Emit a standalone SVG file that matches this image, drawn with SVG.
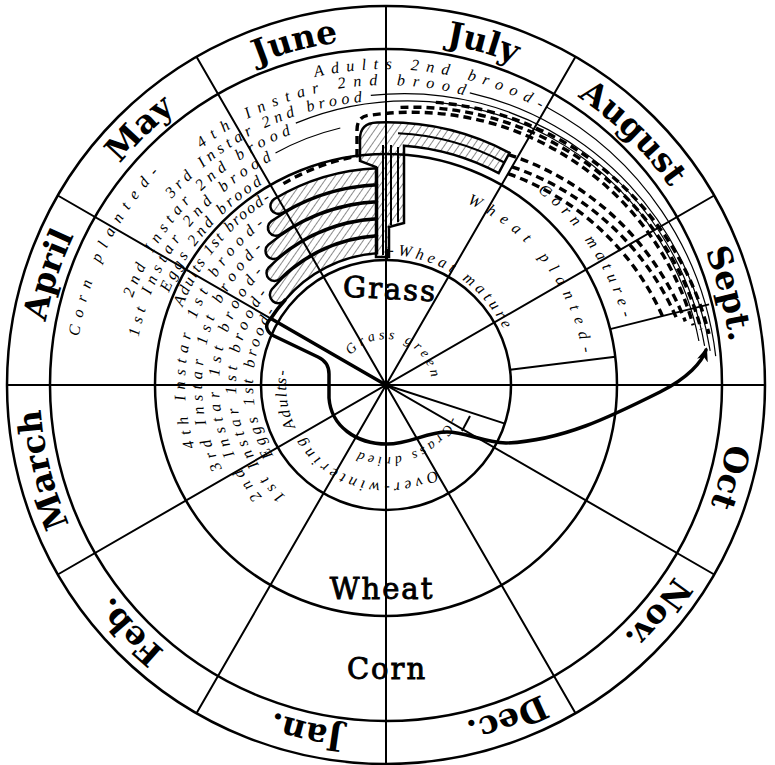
<svg xmlns="http://www.w3.org/2000/svg" width="775" height="765" viewBox="0 0 775 765">
<style>
.c{fill:none;stroke:#000;stroke-width:2.5}
.d{fill:none;stroke:#000;stroke-width:2}
.mon{font-family:"DejaVu Serif","Liberation Serif",serif;font-weight:bold;font-size:33px;fill:#000}
.big{font-family:"DejaVu Serif","Liberation Serif",serif;font-size:29px;fill:#000;stroke:#000;stroke-width:.9;letter-spacing:2px}
.lab{font-family:"Liberation Serif",serif;font-style:italic;font-size:16px;fill:#000}
.sm{font-size:14px}
.thin{fill:none;stroke:#000;stroke-width:1.2}
.dash{fill:none;stroke:#000;stroke-width:3.4;stroke-dasharray:8 5}
.band{fill:url(#hatch);stroke:#000;stroke-width:2.5}
.thick{fill:none;stroke:#000;stroke-width:3.5;stroke-linejoin:round;stroke-linecap:round}
</style>
<defs>
<pattern id="hatch" width="6" height="6" patternUnits="userSpaceOnUse" patternTransform="rotate(35)"><line x1="0" y1="0" x2="0" y2="6" stroke="#000" stroke-width="0.9"/></pattern>
<marker id="arr" viewBox="0 0 10 10" refX="8" refY="5" markerWidth="4" markerHeight="4" orient="auto"><path d="M0,1 L10,5 L0,9 L3,5 Z" fill="#000"/></marker>
<path id="mp" d="M 0,-346 A 346 346 0 1 1 0,346 A 346 346 0 1 1 0,-346"/>
<path id="t1" d="M -307.2,-48.6 A 311 311 0 0 1 -223.7,-216.0"/>
<path id="t2" d="M -71.1,-307.9 A 316 316 0 0 1 158,-273.7"/>
<path id="t3" d="M -184.7,-236.4 A 300 300 0 0 1 82.7,-288.4"/>
<path id="t4" d="M -214.3,-186.3 A 284 284 0 0 1 -19.8,-283.3"/>
<path id="t5" d="M -253.4,-87.3 A 268 268 0 0 1 -91.7,-251.8"/>
<path id="t6" d="M -247.4,-48.1 A 252 252 0 0 1 -110.5,-226.5"/>
<path id="t7" d="M -217.2,-92.2 A 236 236 0 0 1 -121.5,-202.3"/>
<path id="w1" d="M -203.5,-78.1 A 218 218 0 0 1 -112.3,-186.9"/>
<path id="w2" d="M -191.2,62.1 A 201 201 0 0 1 -118.1,-162.6"/>
<path id="w3" d="M -163.9,83.5 A 184 184 0 0 1 -120.7,-138.9"/>
<path id="w4" d="M -124.1,111.7 A 167 167 0 0 1 -120.1,-116.0"/>
<path id="w5" d="M -100.4,111.5 A 150 150 0 0 1 -116.6,-94.4"/>
<path id="w6" d="M -112.8,70.5 A 133 133 0 0 1 -109.0,-76.3"/>
<path id="g1" d="M -35.2,-29.6 A 46 46 0 0 1 45.8,-4.0"/>
<path id="g2" d="M 64.7,31.6 A 72 72 0 0 1 -30.4,65.3"/>
<path id="g3" d="M 49,84.9 A 98 98 0 0 1 -84.9,49"/>
<path id="g4" d="M -90.6,42.3 A 100 100 0 0 1 -98.5,-17.4"/>
<path id="x1" d="M 2.3,-130 A 130 130 0 0 1 118.8,-52.9"/>
<path id="x2" d="M 80.9,-181.8 A 199 199 0 0 1 197.1,-27.7"/>
<path id="x3" d="M 151.5,-193.8 A 246 246 0 0 1 237.6,-63.7"/>
</defs>
<rect width="775" height="765" fill="#fff"/>
<g transform="translate(386,385)">
<g id="rings">
<circle class="c" r="379" stroke-width="3"/>
<circle class="c" r="336"/>
<circle class="c" r="231"/>
<circle class="c" r="125"/>
</g>
<g id="dividers">
<path class="d" d="M 0,-379 L 0,379 M 189.5,-328.2 L -189.5,328.2 M 328.2,-189.5 L -328.2,189.5 M -379,0 L 379,0 M 328.2,189.5 L -328.2,-189.5 M 189.5,328.2 L -189.5,-328.2"/>
<path class="d" d="M 0,0 L 118.9,38.6 M 124.1,-15.2 L 229.3,-28.2 M 224.1,-55.9 L 323.1,-80.6"/>
<path class="d" stroke-width="1.5" d="M 84,31 L 76,46"/>
</g>
<g id="months" class="mon" text-anchor="middle">
<text><textPath href="#mp" startOffset="2083">June</textPath></text>
<text><textPath href="#mp" startOffset="96">July</textPath></text>
<text><textPath href="#mp" startOffset="268">August</textPath></text>
<text><textPath href="#mp" startOffset="453">Sept.</textPath></text>
<text><textPath href="#mp" startOffset="634">Oct</textPath></text>
<text><textPath href="#mp" startOffset="785">Nov.</textPath></text>
<text><textPath href="#mp" startOffset="966">Dec.</textPath></text>
<text><textPath href="#mp" startOffset="1165">Jan.</textPath></text>
<text><textPath href="#mp" startOffset="1365">Feb.</textPath></text>
<text><textPath href="#mp" startOffset="1546">March</textPath></text>
<text><textPath href="#mp" startOffset="1739">April</textPath></text>
<text><textPath href="#mp" startOffset="1908">May</textPath></text>
</g>
<g id="crops" class="big" text-anchor="middle">
<text x="4" y="-86" transform="rotate(3 4 -95)">Grass</text>
<text x="-4" y="214">Wheat</text>
<text x="1" y="294">Corn</text>
</g>
<g id="bands">
<path class="band" stroke-width="2" d="M -10,-128 L -10,-218 L -26,-224 L -26,-246 Q -26,-262 -9,-262.5 A 263 263 0 0 1 123.5,-232.2 L 112.7,-211.9 A 240 240 0 0 0 18,-239.3 L 18,-162 L 3,-158 L 3,-128 Z"/>
<path class="d" stroke-width="2.4" d="M 12,-251.7 A 252 252 0 0 1 118.3,-222.5"/>
<path class="d" stroke-width="1.2" d="M -3,-130 L -3,-240 M 5,-160 L 5,-240 M 12,-163 L 12,-238"/>
<path class="band" d="M -101.1,-84.8 A 8.5 8.5 0 0 1 -114.1,-95.8 A 149 149 0 0 1 -9,-148.7 L -9,-131.7 A 132 132 0 0 0 -101.1,-84.8 Z"/>
<path class="band" d="M -106.1,-106.1 A 8 8 0 0 1 -117.4,-117.4 A 166 166 0 0 1 -9,-165.8 L -9,-149.7 A 150 150 0 0 0 -106.1,-106.1 Z"/>
<path class="band" d="M -107.3,-127.9 A 8 8 0 0 1 -117.6,-140.2 A 183 183 0 0 1 -9,-182.8 L -9,-166.8 A 167 167 0 0 0 -107.3,-127.9 Z"/>
<path class="band" d="M -105.5,-150.7 A 8 8 0 0 1 -114.7,-163.8 A 200 200 0 0 1 -9,-199.8 L -9,-183.8 A 184 184 0 0 0 -105.5,-150.7 Z"/>
<path class="band" d="M -103.5,-172.3 A 8 8 0 0 1 -111.8,-186.0 A 217 217 0 0 1 -9,-216.8 L -9,-200.8 A 201 201 0 0 0 -103.5,-172.3 Z"/>
<path class="d" stroke-width="3" d="M 1,-136 L 1,-124"/>
</g>
<g id="connectors">
<path class="dash" stroke-width="3" stroke-dasharray="12 6" d="M 122,-211.3 A 265 265 0 0 1 276.5,-68.9"/>
<path class="dash" d="M 126,-218.2 A 275 275 0 0 1 290.4,-67.1"/>
<path class="dash" d="M 122.5,-230.4 A 284 284 0 0 1 299.3,-63.6"/>
<path class="dash" d="M -102.6,-201.4 A 228 228 0 0 1 -39.9,-226.5 L -29,-229 L -29,-255 Q -29,-270 -14,-270 A 292 292 0 0 1 307.2,-59.7"/>
<path class="dash" d="M 14.5,-277.6 A 299 299 0 0 1 315.1,-55.6"/>
<path class="dash" d="M 49.8,-282.6 A 307 307 0 0 1 323,-51.1"/>
<path class="thin" d="M 160.5,-278 A 326 326 0 0 1 329.7,-28.9"/>
<path class="thin" d="M 83.8,-292.2 A 315 315 0 0 1 324.2,-34.1"/>
<path class="thin" d="M -15.2,-289.6 A 305 305 0 0 1 318.6,-39.1"/>
<path class="thin" d="M -90.2,-261.9 A 296 296 0 0 1 312.9,-44.0"/>
<path class="thin" d="M -110.5,-232 A 259 259 0 0 1 -45.7,-257"/>
<path class="thick" d="M -101.1,-84.8 A 133 133 0 0 0 -115.2,-66.5 Q -124,-58 -114,-50 L -68,-28 Q -57,-23 -57,-11 L -57,13 C -55,41 -30,59 1,59 C 24,59 40,47 61,47 C 80,47 96,57 120,58 C 176,56 226,31 274,7 C 302,-7 316,-23 320,-35" marker-end="url(#arr)"/>
<path class="thick" stroke-width="3" d="M -115.2,-66.5 L 0,0"/>
</g>
<g id="labels" class="lab">
<text><textPath href="#t1" textLength="185" lengthAdjust="spacing">Corn planted-</textPath></text>
<text><textPath href="#t2" textLength="233" lengthAdjust="spacing">Adults 2nd brood-</textPath></text>
<text><textPath href="#t3" textLength="278" lengthAdjust="spacing">4th Instar 2nd brood</textPath></text>
<text><textPath href="#t4" textLength="219" lengthAdjust="spacing">3rd Instar 2nd brood</textPath></text>
<text><textPath href="#t5" textLength="235" lengthAdjust="spacing">2nd Instar 2nd brood</textPath></text>
<text><textPath href="#t6" textLength="229" lengthAdjust="spacing">1st Instar 2nd brood</textPath></text>
<text><textPath href="#t7" textLength="146" lengthAdjust="spacing">Eggs 2nd brood</textPath></text>
<text><textPath href="#w1" textLength="141" lengthAdjust="spacing">Adults 1st brood-</textPath></text>
<text><textPath href="#w2" textLength="248" lengthAdjust="spacing">4th Instar 1st brood-</textPath></text>
<text><textPath href="#w3" textLength="240" lengthAdjust="spacing">3rd Instar 1st brood-</textPath></text>
<text><textPath href="#w4" textLength="246" lengthAdjust="spacing">2nd Instar 1st brood-</textPath></text>
<text><textPath href="#w5" textLength="224" lengthAdjust="spacing">1st Instar 1st brood-</textPath></text>
<text><textPath href="#w6" textLength="152" lengthAdjust="spacing">Eggs 1st brood-</textPath></text>
<text class="sm"><textPath href="#g1" textLength="104" lengthAdjust="spacing">Grass green</textPath></text>
<text class="sm"><textPath href="#g2" textLength="108" lengthAdjust="spacing">-Grass dried</textPath></text>
<text><textPath href="#g3" textLength="150" lengthAdjust="spacing">Over-wintering</textPath></text>
<text><textPath href="#g4" textLength="58" lengthAdjust="spacing">Adults-</textPath></text>
<text><textPath href="#x1" textLength="144" lengthAdjust="spacing">-Wheat mature</textPath></text>
<text><textPath href="#x2" textLength="197" lengthAdjust="spacing">Wheat planted-</textPath></text>
<text><textPath href="#x3" textLength="155" lengthAdjust="spacing">Corn mature-</textPath></text>
</g>
</g>
</svg>
